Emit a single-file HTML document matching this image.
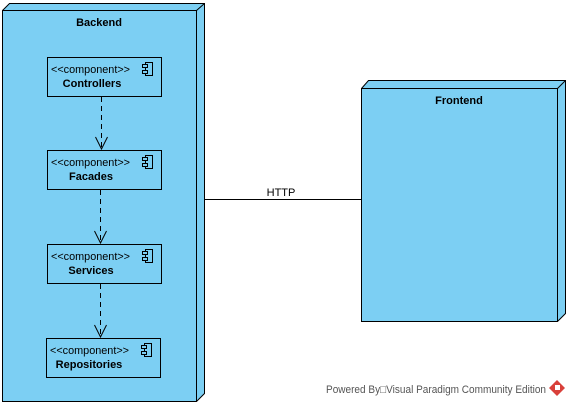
<!DOCTYPE html>
<html><head><meta charset="utf-8"><style>
html,body{margin:0;padding:0;background:#fff;width:570px;height:405px;overflow:hidden}
svg{display:block}
text{font-family:"Liberation Sans",Arial,sans-serif;fill:#000}
</style></head><body>
<svg width="570" height="405" viewBox="0 0 570 405" xmlns="http://www.w3.org/2000/svg">
<g stroke="#000" stroke-width="1" fill="#7ccff3">
  <polygon points="2.5,10.5 9.5,3.5 204.5,3.5 204.5,393.5 196.5,401.5 2.5,401.5"/>
  <polyline points="2.5,10.5 196.5,10.5 196.5,401.5" fill="none"/>
  <line x1="196.5" y1="10.5" x2="204.5" y2="3.5"/>
  <polygon points="361.5,88.5 368.5,80.5 565.5,80.5 565.5,313.5 557.5,321.5 361.5,321.5"/>
  <polyline points="361.5,88.5 557.5,88.5 557.5,321.5" fill="none"/>
  <line x1="557.5" y1="88.5" x2="565.5" y2="80.5"/>
</g>
<text x="99" y="26" font-size="11" font-weight="bold" text-anchor="middle">Backend</text>
<text x="459" y="104" font-size="11" font-weight="bold" text-anchor="middle">Frontend</text>

<line x1="204" y1="199.5" x2="361" y2="199.5" stroke="#000"/>
<text x="281" y="196" font-size="11" text-anchor="middle">HTTP</text>

<g stroke="#000" fill="none">
  <rect x="47.5" y="57.5" width="114" height="39"/>
  <rect x="47.5" y="150.5" width="114" height="39"/>
  <rect x="47.5" y="244.5" width="114" height="39"/>
  <rect x="46.5" y="338.5" width="114" height="39"/>
  <line x1="101.5" y1="97" x2="101.5" y2="148" stroke-dasharray="5,4"/>
  <polyline points="95.5,137 101.5,149 107.5,137"/>
  <line x1="100.5" y1="190" x2="100.5" y2="242" stroke-dasharray="5,4"/>
  <polyline points="94.5,231 100.5,243 106.5,231"/>
  <line x1="100.5" y1="284" x2="100.5" y2="336" stroke-dasharray="5,4"/>
  <polyline points="94.5,325 100.5,337 106.5,325"/>
</g>
<g stroke="#000" fill="#7ccff3">
  <rect x="145.5" y="62.5" width="7" height="13"/><rect x="142.5" y="64.5" width="5" height="3"/><rect x="142.5" y="70.5" width="5" height="3"/>
  <rect x="145.5" y="155.5" width="7" height="13"/><rect x="142.5" y="157.5" width="5" height="3"/><rect x="142.5" y="163.5" width="5" height="3"/>
  <rect x="145.5" y="249.5" width="7" height="13"/><rect x="142.5" y="251.5" width="5" height="3"/><rect x="142.5" y="257.5" width="5" height="3"/>
  <rect x="144.5" y="343.5" width="7" height="13"/><rect x="141.5" y="345.5" width="5" height="3"/><rect x="141.5" y="351.5" width="5" height="3"/>
</g>
<g font-size="11">
  <text x="51" y="73" textLength="79" lengthAdjust="spacingAndGlyphs">&lt;&lt;component&gt;&gt;</text>
  <text x="51" y="166" textLength="79" lengthAdjust="spacingAndGlyphs">&lt;&lt;component&gt;&gt;</text>
  <text x="51" y="260" textLength="79" lengthAdjust="spacingAndGlyphs">&lt;&lt;component&gt;&gt;</text>
  <text x="50" y="354" textLength="79" lengthAdjust="spacingAndGlyphs">&lt;&lt;component&gt;&gt;</text>
</g>
<g font-size="11" font-weight="bold" text-anchor="middle">
  <text x="92" y="87">Controllers</text>
  <text x="91" y="180">Facades</text>
  <text x="91" y="274">Services</text>
  <text x="89" y="368">Repositories</text>
</g>
<text x="326" y="393" font-size="11" textLength="220" lengthAdjust="spacingAndGlyphs" style="fill:#555">Powered By□Visual Paradigm Community Edition</text>
<g transform="translate(557,388)">
  <polygon points="0,-8 8,0 0,8 -8,0" fill="#d9403a"/>
  <polygon points="-2,-3 3,-3 3,2 -2,2" fill="#fff"/>
</g>
</svg>
</body></html>
